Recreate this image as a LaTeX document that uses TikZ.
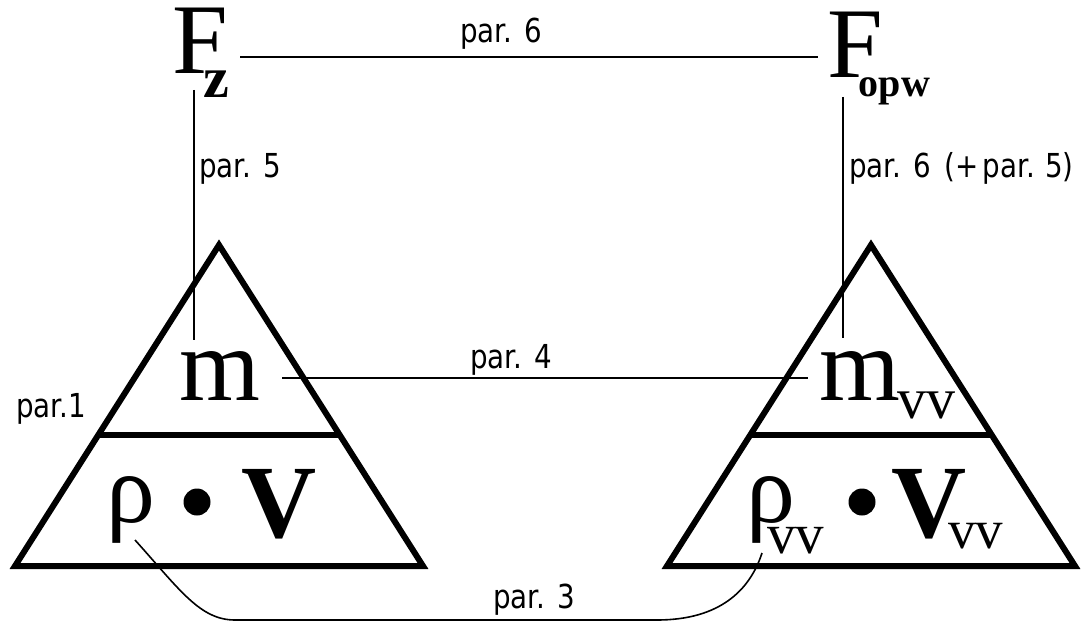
\documentclass[tikz,border=0pt]{standalone}
\usepackage{fontspec}
\setmainfont{Liberation Serif}
\newfontfamily\parfont[FakeStretch=0.84]{DejaVu Sans}
\usetikzlibrary{calc}

\begin{document}
\begin{tikzpicture}[x=1pt,y=-1pt,
  lbl/.style={anchor=base west,inner sep=0pt,font=\fontsize{33}{33}\parfont},
  sym/.style={anchor=base west,inner sep=0pt,font=\fontsize{104}{104}\selectfont},
  dot/.style={circle,fill,inner sep=0pt,minimum size=27pt},
  link/.style={line width=1.6pt},
  tri/.style={line width=6pt,line join=miter}]
  \useasboundingbox (0,0) rectangle (1090,623);
  % forces
  \node[sym,font=\fontsize{100}{100}\selectfont] (Fz) at (172,74)
    {F\kern-24pt\raisebox{-24pt}{\fontsize{58}{58}\selectfont\bfseries z}};
  \node[sym,font=\fontsize{100}{100}\selectfont] (Fopw) at (827,78)
    {F\kern-24pt\raisebox{-19pt}{\fontsize{40}{40}\selectfont\bfseries opw}};
  % left triangle
  \draw[tri] (15,566) -- (219,245) -- (423,566) -- cycle;
  \draw[tri] (98,435) -- (340,435);
  \node[sym] (m) at (179,400) {m};
  \node[sym,font=\fontsize{98}{98}\selectfont] (rho) at (106,522) {ρ};
  \node[dot] (dotA) at (197,502) {};
  \node[sym] (V) at (241,537) {\bfseries V};
  % right triangle
  \draw[tri] (667,566) -- (871,245) -- (1075,566) -- cycle;
  \draw[tri] (750,435) -- (992,435);
  \node[sym] (mvv) at (819,400)
    {m\kern-3pt\raisebox{-18pt}{\fontsize{58}{58}\selectfont vv}};
  \node[sym,font=\fontsize{98}{98}\selectfont] (rhovv) at (746,522)
    {ρ\kern-28pt\raisebox{-31pt}{\fontsize{57}{57}\selectfont vv}};
  \node[dot] (dotB) at (862,502) {};
  \node[sym] (Vvv) at (891,537)
    {\bfseries V\kern-18pt\raisebox{-11pt}{\fontsize{55}{55}\selectfont\mdseries vv}};
  % connector ends
  \coordinate (z6a) at (240,57);  \coordinate (z6b) at (818,57);
  \coordinate (z5a) at (194,90);  \coordinate (z5b) at (194,340);
  \coordinate (w6a) at (843,97);  \coordinate (w6b) at (843,338);
  \coordinate (z4a) at (282,378); \coordinate (z4b) at (808,378);
  \coordinate (z3a) at (135,540); \coordinate (z3b) at (762,553);
  \draw[link] (z6a) -- (z6b);
  \draw[link] (z5a) -- (z5b);
  \draw[link] (w6a) -- (w6b);
  \draw[link] (z4a) -- (z4b);
  \draw[link] (z3a) .. controls (180,590) and (200,620) .. (235,620)
    -- (657,620) .. controls (720,620) and (750,590) .. (z3b);
  % labels
  \node[lbl] (l6) at (460,43) {par. 6};
  \node[lbl] (l5) at (199,178) {par. 5};
  \node[lbl] (l65) at (849,178) {par. 6\kern14pt(+\kern4pt par.\kern10pt5)};
  \node[lbl] (l4) at (470,368) {par. 4};
  \node[lbl] (l1) at (16,417) {par.1};
  \node[lbl] (l3) at (493,608) {par. 3};
\end{tikzpicture}
\end{document}
